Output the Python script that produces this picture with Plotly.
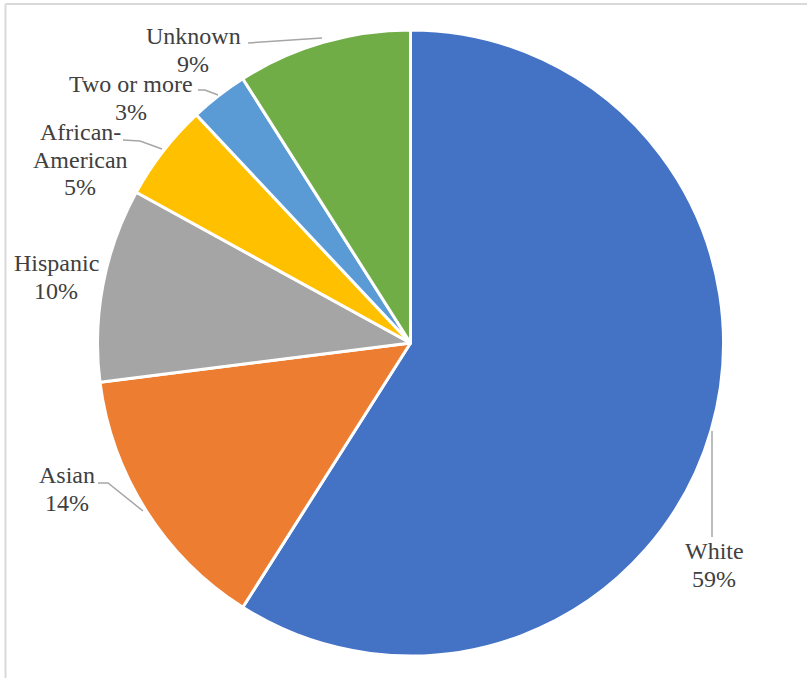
import plotly.graph_objects as go

# ---- data ----
labels = ["White", "Asian", "Hispanic", "African-American", "Two or more", "Unknown"]
values = [59, 14, 10, 5, 3, 9]
display_labels = ["White", "Asian", "Hispanic", "African-<br>American", "Two or more", "Unknown"]
colors = ["#4472C4", "#ED7D31", "#A5A5A5", "#FFC000", "#5B9BD5", "#70AD47"]

W, H = 807, 678
cx, cy, r = 410.5, 343.0, 313.0

fig = go.Figure(go.Pie(
    labels=labels, values=values, sort=False, direction="clockwise", rotation=0,
    marker=dict(colors=colors, line=dict(color="white", width=3)),
    textinfo="none", hoverinfo="label+percent", showlegend=False,
    domain=dict(x=[(cx - r) / W, (cx + r) / W], y=[(H - cy - r) / H, (H - cy + r) / H]),
))

# label anchor (centre of first text line, pixels) and line spacing
label_pos = [(714, 551), (67, 475), (56, 263), (80, 132), (131, 84), (193, 36)]
line_gap = 27.5
FONT = "Liberation Serif"
annotations = []
for lab, val, (x, y) in zip(display_labels, values, label_pos):
    lines = lab.split("<br>") + [f"{val}%"]
    for i, t in enumerate(lines):
        annotations.append(dict(
            x=x / W, y=1 - (y + i * line_gap) / H, xref="paper", yref="paper",
            text=t, showarrow=False, xanchor="center", yanchor="middle",
            font=dict(family=FONT, size=24, color="#404040"),
        ))

# leader lines (pixel polylines)
leaders = [
    [(712, 431), (712, 537)],
    [(98, 483), (108, 483), (143, 511)],
    [(123, 140), (140, 141), (162, 149)],
    [(198, 90), (205, 90), (218, 95)],
    [(248, 43), (322, 38)],
]
shapes = []
for pts in leaders:
    path = "M " + " L ".join(f"{px / W:.5f},{1 - py / H:.5f}" for px, py in pts)
    shapes.append(dict(type="path", path=path, xref="paper", yref="paper",
                       line=dict(color="#A6A6A6", width=1.5)))

# chart-area border (top and left visible)
shapes.append(dict(type="line", xref="paper", yref="paper", x0=5.5 / W, x1=1, y0=1 - 4 / H, y1=1 - 4 / H,
                   line=dict(color="#D9D9D9", width=2)))
shapes.append(dict(type="line", xref="paper", yref="paper", x0=5.5 / W, x1=5.5 / W, y0=0, y1=1 - 4 / H,
                   line=dict(color="#D9D9D9", width=2)))

fig.update_layout(
    width=W, height=H, margin=dict(l=0, r=0, t=0, b=0),
    paper_bgcolor="white", plot_bgcolor="white",
    font=dict(family=FONT),
    annotations=annotations, shapes=shapes,
)
fig.write_html("out.html")
